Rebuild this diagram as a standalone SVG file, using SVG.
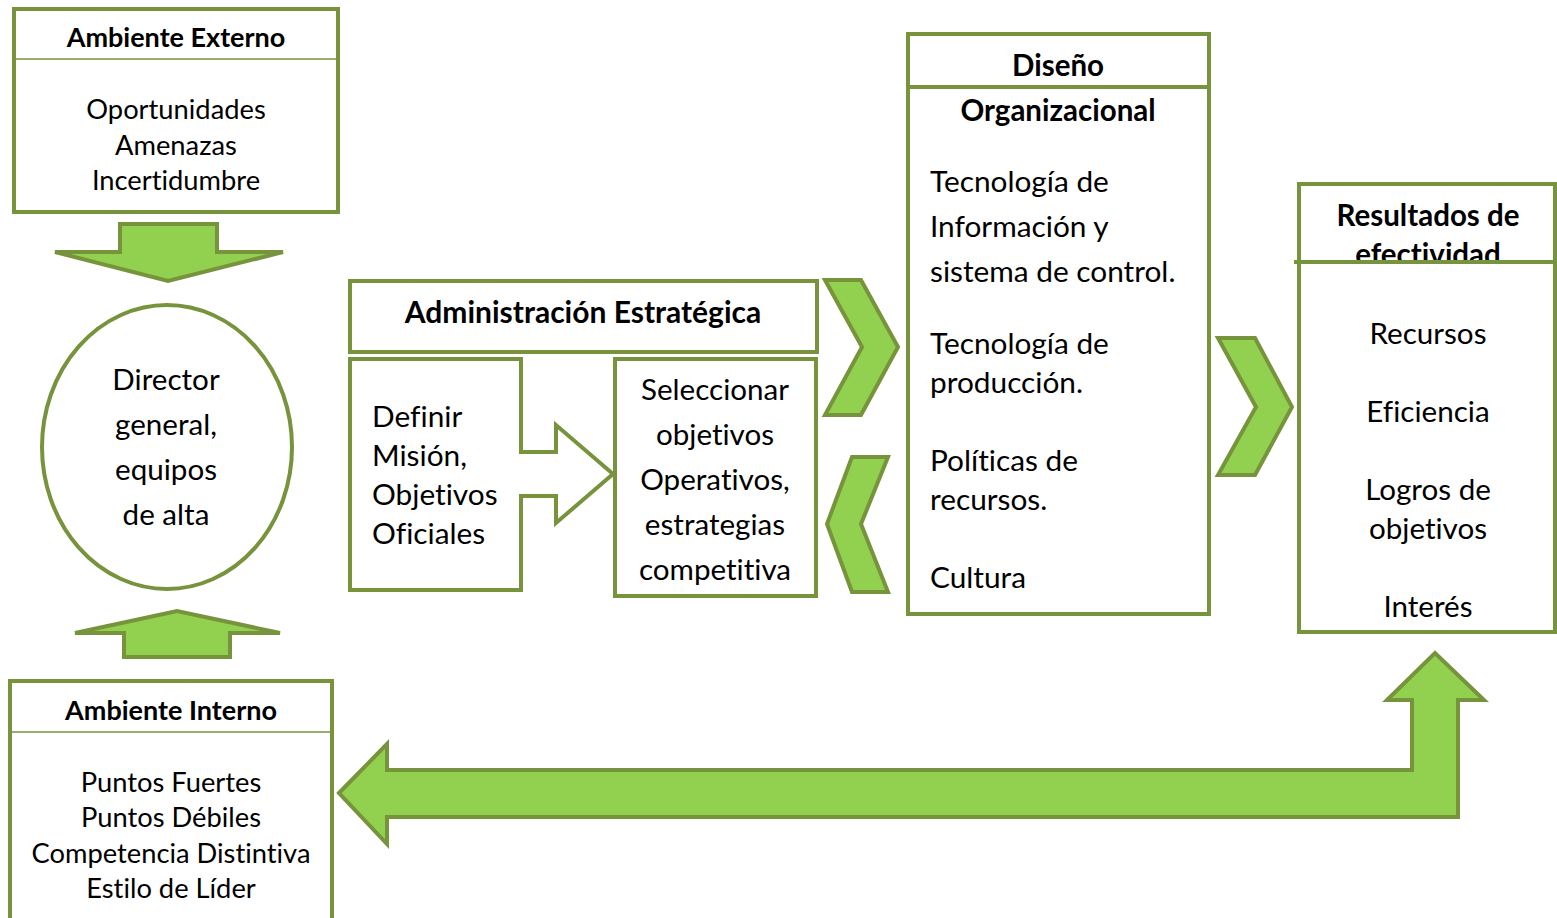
<svg xmlns="http://www.w3.org/2000/svg" width="1557" height="918" viewBox="0 0 1557 918">
<style>
.box{fill:#fff;stroke:#77933C;stroke-width:4}
.thin{stroke:#77933C;stroke-width:1.6;fill:none}
.thick{stroke:#77933C;stroke-width:4;fill:none}
.arr{fill:#92D050;stroke:#77933C;stroke-width:4;stroke-linejoin:miter}
text{font-family:Lato,"Open Sans","Liberation Sans",sans-serif;fill:#000;font-variant-ligatures:none;font-feature-settings:"liga" 0,"dlig" 0}
.t{font-weight:bold;font-size:27px;text-anchor:middle}
.t2{font-weight:bold;font-size:29.5px;text-anchor:middle}
.b{font-size:27.3px;text-anchor:middle}
.l{font-size:29.8px}
.c{font-size:29.6px;text-anchor:middle}
</style>
<rect width="1557" height="918" fill="#fff"/>
<g id="connectors">
<path class="arr" d="M120,224 H217 V252 H283 L168,281 L55,252 H120 Z"/>
<path class="arr" d="M124,657 H230 V633 H280 L177,611 L75,633 H124 Z"/>
<path class="arr" d="M825,280 H861 L898,347 L861,415 H825 L862,347 Z"/>
<path class="arr" d="M888,457 H852 L827,524 L852,592 H888 L861,524 Z"/>
<path class="arr" d="M1218,338 H1255 L1292,407 L1255,475 H1218 L1256,407 Z"/>
<path class="arr" d="M339,793 L387,744 V770 H1412 V700 H1387 L1435,653 L1484,700 H1458 V817 H387 V844 Z"/>
</g>
<g id="ambiente-externo">
<rect class="box" x="14" y="9" width="324" height="203"/>
<line class="thin" x1="14" y1="59" x2="338" y2="59"/>
<text class="t" x="176" y="47">Ambiente Externo</text>
<text class="b" x="176" y="119">Oportunidades</text>
<text class="b" x="176" y="155">Amenazas</text>
<text class="b" x="176" y="190">Incertidumbre</text>
</g>
<g id="director">
<ellipse cx="167" cy="447" rx="125" ry="142" fill="#fff" stroke="#77933C" stroke-width="4"/>
<text class="c" x="166" y="390">Director</text>
<text class="c" x="166" y="435">general,</text>
<text class="c" x="166" y="480">equipos</text>
<text class="c" x="166" y="525">de alta</text>
</g>
<g id="ambiente-interno">
<rect class="box" x="10" y="681" width="322" height="260"/>
<line class="thin" x1="10" y1="732" x2="332" y2="732"/>
<text class="t" x="171" y="720">Ambiente Interno</text>
<text class="b" x="171" y="792">Puntos Fuertes</text>
<text class="b" x="171" y="827">Puntos Débiles</text>
<text class="b" x="171" y="863">Competencia Distintiva</text>
<text class="b" x="171" y="898">Estilo de Líder</text>
</g>
<g id="administracion">
<rect class="box" x="350" y="281" width="467" height="71"/>
<text class="t2" x="583" y="323" style="font-size:30px">Administración Estratégica</text>
</g>
<g id="definir">
<path class="box" d="M350,359 H521 V452 H556 V425 L613,474 L556,523 V496 H521 V590 H350 Z"/>
<text class="l" x="372" y="427">Definir</text>
<text class="l" x="372" y="466">Misión,</text>
<text class="l" x="372" y="505">Objetivos</text>
<text class="l" x="372" y="544">Oficiales</text>
</g>
<g id="seleccionar">
<rect class="box" x="615" y="359" width="201" height="237"/>
<text class="c" x="715" y="400">Seleccionar</text>
<text class="c" x="715" y="445">objetivos</text>
<text class="c" x="715" y="490">Operativos,</text>
<text class="c" x="715" y="535">estrategias</text>
<text class="c" x="715" y="580">competitiva</text>
</g>
<g id="diseno">
<rect class="box" x="908" y="34" width="301" height="580"/>
<line class="thick" x1="908" y1="87" x2="1209" y2="87"/>
<text class="t2" x="1058" y="76">Diseño</text>
<text class="t2" x="1058" y="121">Organizacional</text>
<text class="l" x="930" y="192">Tecnología de</text>
<text class="l" x="930" y="237">Información y</text>
<text class="l" x="930" y="282">sistema de control.</text>
<text class="l" x="930" y="354">Tecnología de</text>
<text class="l" x="930" y="393">producción.</text>
<text class="l" x="930" y="471">Políticas de</text>
<text class="l" x="930" y="510">recursos.</text>
<text class="l" x="930" y="588">Cultura</text>
</g>
<g id="resultados">
<rect class="box" x="1299" y="184" width="256" height="78"/>
<text class="t2" x="1428" y="226">Resultados de</text>
<text class="t2" x="1428" y="265">efectividad</text>
<rect class="box" x="1299" y="262" width="256" height="370"/>
<line class="thick" x1="1294" y1="262" x2="1557" y2="262"/>
<text class="c" x="1428" y="344">Recursos</text>
<text class="c" x="1428" y="422">Eficiencia</text>
<text class="c" x="1428" y="500">Logros de</text>
<text class="c" x="1428" y="539">objetivos</text>
<text class="c" x="1428" y="617">Interés</text>
</g>
</svg>
